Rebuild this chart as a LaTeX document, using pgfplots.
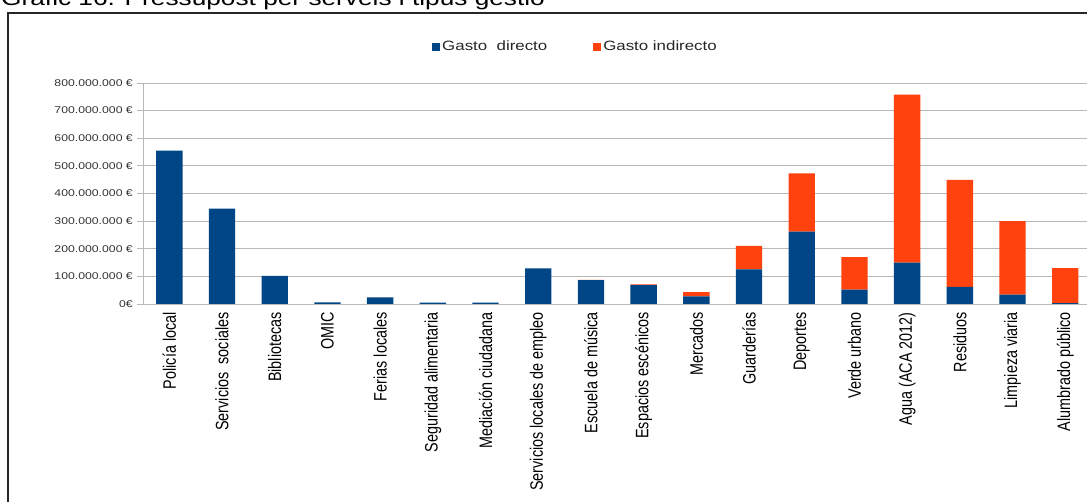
\documentclass[border=0pt]{standalone}
\usepackage{pgfplots}
\pgfplotsset{compat=1.18}
\usepackage{fontspec}
\setmainfont{Liberation Sans}
\definecolor{dblue}{HTML}{004586}
\definecolor{lorange}{HTML}{FF420E}
\definecolor{gridc}{HTML}{B8B8B8}
\newcommand{\hs}[1]{\scalebox{1.25}[1]{#1}}
\newcommand{\vs}[1]{\scalebox{1}[1.25]{#1}}
\begin{document}
\begin{tikzpicture}[x=1pt,y=1pt]
\useasboundingbox (0,0) rectangle (1087,502);
\fill[white] (0,0) rectangle (1087,502);
\node[anchor=base west, inner sep=0pt, font=\fontsize{21}{25}\selectfont] at (1,496.5) {\hs{Gràfic 16. Pressupost per serveis i tipus gestió}};
\draw[line width=1.5pt, black!85] (1120,489) -- (8,489) -- (8,-20);
\begin{axis}[
  at={(143pt,198pt)}, anchor=south west, scale only axis,
  width=948.6pt, height=221pt,
  ybar stacked, bar width=0.5,
  xmin=-0.5, xmax=17.5, ymin=0, ymax=800,
  axis x line*=bottom, axis y line*=left,
  axis line style={gridc, line width=0.8pt},
  xtick={0,...,17},
  xticklabels={{\vs{Policía local}},{\vs{Servicios\ \ sociales}},{\vs{Bibliotecas}},{\vs{OMIC}},{\vs{Ferias locales}},{\vs{Seguridad alimentaria}},{\vs{Mediación ciudadana}},{\vs{Servicios locales de empleo}},{\vs{Escuela de música}},{\vs{Espacios escénicos}},{\vs{Mercados}},{\vs{Guarderías}},{\vs{Deportes}},{\vs{Verde urbano}},{\vs{Agua (ACA 2012)}},{\vs{Residuos}},{\vs{Limpieza viaria}},{\vs{Alumbrado público}}},
  xticklabel style={rotate=90, anchor=east, inner sep=0pt, font=\fontsize{14.4}{16}\selectfont, text=black},
  xticklabel shift=2pt,
  xtick style={draw=none},
  minor xtick={-0.5,0.5,...,17.5},
  minor x tick style={gridc, line width=0.8pt},
  minor tick length=4pt,
  tick align=outside,
  ytick={0,100,...,800},
  yticklabels={{\hs{0€}},{\hs{100.000.000 €}},{\hs{200.000.000 €}},{\hs{300.000.000 €}},{\hs{400.000.000 €}},{\hs{500.000.000 €}},{\hs{600.000.000 €}},{\hs{700.000.000 €}},{\hs{800.000.000 €}}},
  yticklabel style={anchor=east, inner sep=0pt, font=\fontsize{9.8}{11}\selectfont, text=black!80},
  yticklabel shift=4pt,
  ytick style={gridc, line width=0.8pt},
  major tick length=6pt,
  ymajorgrids, major grid style={gridc, line width=0.8pt},
  legend columns=2,
  legend style={at={(0.3047,1.1643)}, anchor=west, draw=none, fill=none, inner sep=0pt,
    font=\fontsize{13.5}{15}\selectfont, text=black!85,
    /tikz/every even column/.append style={column sep=44pt}},
]
\addplot[fill=dblue, draw=none, legend image code/.code={\fill[dblue] (0pt,-4pt) rectangle (8pt,4pt);}] coordinates {
 (0,555) (1,345) (2,102) (3,6) (4,24) (5,5) (6,5) (7,129) (8,86)
 (9,68) (10,28) (11,125) (12,262) (13,52) (14,150) (15,62) (16,34) (17,3)};
\addlegendentry{\hs{Gasto\ \ directo}}
\addplot[fill=lorange, draw=none, legend image code/.code={\fill[lorange] (0pt,-4pt) rectangle (8pt,4pt);}] coordinates {
 (0,0) (1,0) (2,0) (3,0) (4,0) (5,0) (6,0) (7,0) (8,1)
 (9,3) (10,15) (11,85) (12,211) (13,118) (14,608) (15,387) (16,266) (17,127)};
\addlegendentry{\hs{Gasto indirecto}}
\end{axis}
\end{tikzpicture}
\end{document}
